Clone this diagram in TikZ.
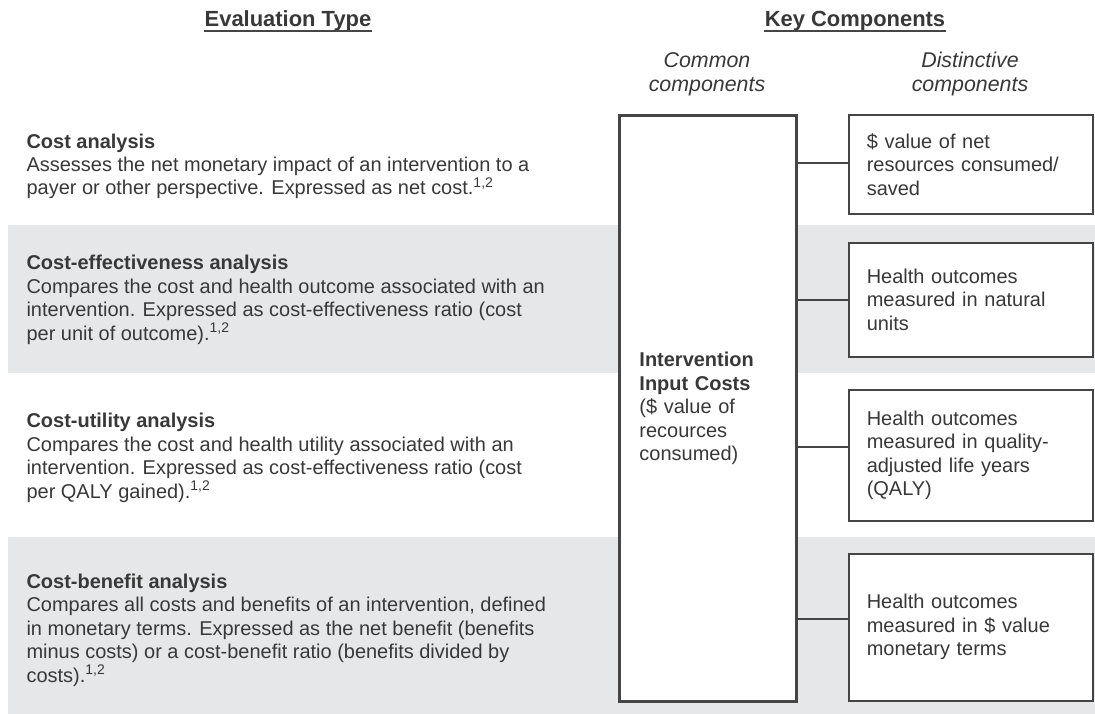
\documentclass[tikz,border=0pt]{standalone}
\usepackage{fontspec}
\setmainfont{Liberation Sans}
\usepackage{tikz}
\usetikzlibrary{positioning,calc}
\definecolor{bandgray}{HTML}{E6E7E8}
\definecolor{inkgray}{HTML}{383838}
\definecolor{linegray}{HTML}{454545}

\begin{document}
\begin{tikzpicture}[x=0.025cm,y=-0.025cm,thick,inner sep=0pt,text=inkgray]
\tikzstyle{head} = [font=\fontsize{15.6}{18}\selectfont\bfseries,anchor=base]
\tikzstyle{sub} = [font=\fontsize{15.2}{17.1}\selectfont\itshape,align=center,anchor=base]
\tikzstyle{evaltext} = [font=\fontsize{14.2}{16.7}\selectfont,align=left,anchor=base west]
\tikzstyle{common} = [draw=linegray,line width=2.1pt,fill=white,anchor=north west,
  minimum width=4.425cm,minimum height=14.65cm,text width=3.425cm,inner xsep=0.5cm,
  align=left,font=\fontsize{14.2}{16.7}\selectfont]
\tikzstyle{distinct} = [draw=linegray,line width=1.1pt,fill=white,anchor=north west,
  minimum width=6.1cm,text width=5.2cm,inner xsep=0.45cm,
  align=left,font=\fontsize{14.2}{16.7}\selectfont]

\useasboundingbox (0,0) rectangle (1095,714);

% shaded rows
\fill[bandgray] (8,225) rectangle (1095,373);
\fill[bandgray] (8,537) rectangle (1095,714);

% column heads
\node[head] (evalhd) at (288,27) {Evaluation Type};
\node[head] (keyhd) at (855,27) {Key Components};
\draw[linegray,line width=1.1pt] ([yshift=-3pt]evalhd.base west) -- ([yshift=-3pt]evalhd.base east);
\draw[linegray,line width=1.1pt] ([yshift=-3pt]keyhd.base west) -- ([yshift=-3pt]keyhd.base east);
% base of a two-line node is its last line
\node[sub] (commhd) at (707,92) {Common\\components};
\node[sub] (disthd) at (970,92) {Distinctive\\components};

% evaluation types (placed at the baseline of their last line)
\node[evaltext] (costa) at (26,195) {\textbf{Cost analysis}\\
  Assesses the net monetary impact of an intervention to a\\
  payer or other perspective. Expressed as net cost.\textsuperscript{1,2}};
\node[evaltext] (cea) at (26,340) {\textbf{Cost-effectiveness analysis}\\
  Compares the cost and health outcome associated with an\\
  intervention. Expressed as cost-effectiveness ratio (cost\\
  per unit of outcome).\textsuperscript{1,2}};
\node[evaltext] (cua) at (26,498) {\textbf{Cost-utility analysis}\\
  Compares the cost and health utility associated with an\\
  intervention. Expressed as cost-effectiveness ratio (cost\\
  per QALY gained).\textsuperscript{1,2}};
\node[evaltext] (cba) at (26,682) {\textbf{Cost-benefit analysis}\\
  Compares all costs and benefits of an intervention, defined\\
  in monetary terms. Expressed as the net benefit (benefits\\
  minus costs) or a cost-benefit ratio (benefits divided by\\
  costs).\textsuperscript{1,2}};

% components
\node[common] (input) at (618,114) {\textbf{Intervention}\\\textbf{Input Costs}\\
  (\$ value of\\recources\\consumed)};
\node[distinct,minimum height=2.475cm] (dist1) at (848,114)
  {\$ value of net\\resources consumed/\\saved};
\node[distinct,minimum height=2.85cm] (dist2) at (848,242)
  {Health outcomes\\measured in natural\\units};
\node[distinct,minimum height=3.275cm] (dist3) at (848,389)
  {Health outcomes\\measured in quality-\\adjusted life years\\(QALY)};
\node[distinct,minimum height=3.675cm] (dist4) at (848,553)
  {Health outcomes\\measured in \$ value\\monetary terms};

\coordinate (j1) at (848,163);
\coordinate (j2) at (848,300);
\coordinate (j3) at (848,447);
\coordinate (j4) at (848,619);
\foreach \j in {j1,j2,j3,j4}
  \draw[linegray,line width=0.9pt] (input.east |- \j) -- (\j);
\end{tikzpicture}
\end{document}
